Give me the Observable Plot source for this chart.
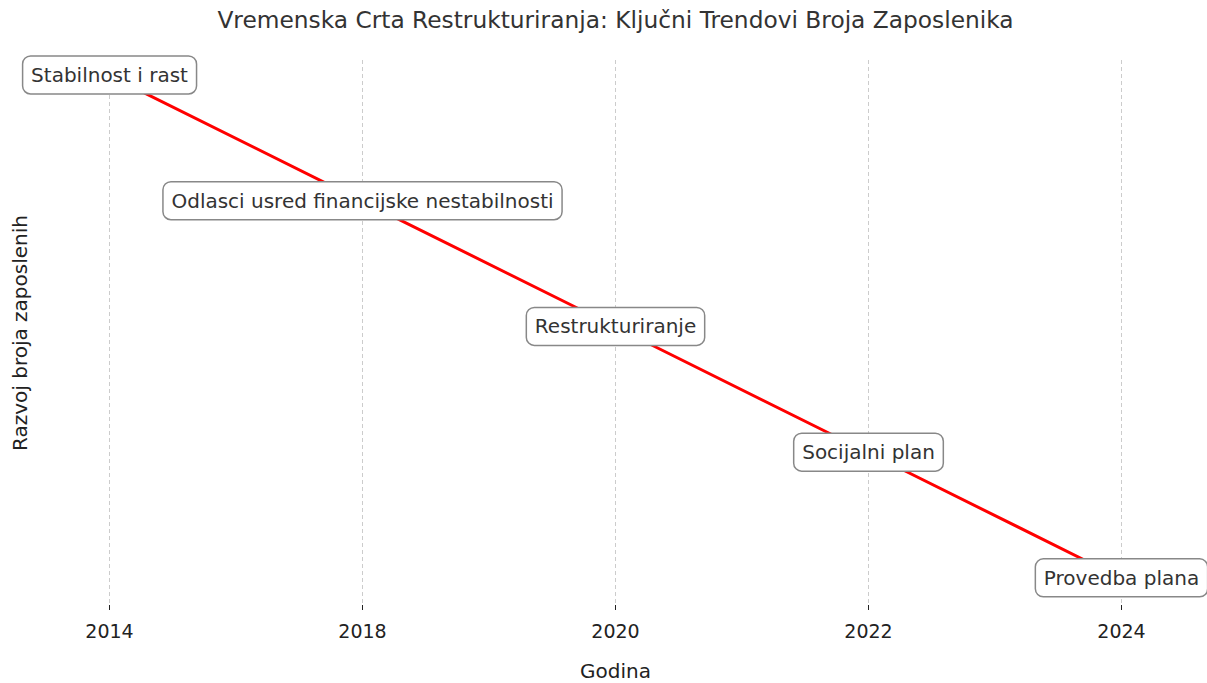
<!DOCTYPE html>
<html><head><meta charset="utf-8">
<script src="https://cdn.jsdelivr.net/npm/d3@7"></script>
<script src="https://cdn.jsdelivr.net/npm/@observablehq/plot@0.6"></script>
<style>
body{margin:0;background:#fff;font-family:"DejaVu Sans",sans-serif;}
#title{height:40px;line-height:40px;text-align:center;font-size:23.3px;color:#333;white-space:nowrap;padding-left:24px;box-sizing:border-box;width:1207px;}
#chart svg{overflow:visible;display:block;}
</style></head><body>
<div id="title">Vremenska Crta Restrukturiranja: Ključni Trendovi Broja Zaposlenika</div>
<div id="chart"></div>
<script>
const years = ["2014", "2018", "2020", "2022", "2024"];
const levels = [5, 4, 3, 2, 1];
const events = ["Stabilnost i rast", "Odlasci usred financijske nestabilnosti", "Restrukturiranje", "Socijalni plan", "Provedba plana"];
const xLabel = "Godina";
const yLabel = "Razvoj broja zaposlenih";

const data = years.map((y, i) => ({year: y, level: levels[i], label: events[i]}));

const chart = Plot.plot({
  width: 1207, height: 643,
  marginLeft: 108, marginRight: 85, marginTop: 20, marginBottom: 78,
  style: {fontFamily: "DejaVu Sans", fontSize: "19px", color: "#222", background: "#fff", overflow: "visible"},
  x: {type: "point", domain: years, padding: 0},
  y: {domain: [0.785, 5.12]},
  marks: [
    Plot.gridX({stroke: "#cccccc", strokeOpacity: 1, strokeDasharray: "4,3"}),
    Plot.axisX({tickSize: 5, tickPadding: 14, fontSize: 19, label: null}),
    Plot.axisX({ticks: [], tickSize: 0, label: xLabel, labelAnchor: "center", labelArrow: "none", labelOffset: 72, fontSize: 20}),
    Plot.axisY({ticks: [], label: yLabel, labelAnchor: "center", labelArrow: "none", labelOffset: 96, fontSize: 20}),
    Plot.line(data, {x: "year", y: "level", stroke: "#ff0000", strokeWidth: 3}),
    Plot.text(data, {x: "year", y: "level", text: "label", fontSize: 20, fill: "#333"})
  ]
});
document.getElementById("chart").appendChild(chart);

// rounded boxes behind the event labels
const padX = 8.5, padY = 7;
chart.querySelectorAll('g[aria-label="text"] text').forEach(t => {
  const b = t.getBBox();
  const r = document.createElementNS("http://www.w3.org/2000/svg", "rect");
  r.setAttribute("x", b.x - padX);
  r.setAttribute("y", b.y - padY);
  r.setAttribute("width", b.width + 2 * padX);
  r.setAttribute("height", b.height + 2 * padY);
  r.setAttribute("rx", 8);
  r.setAttribute("fill", "#fff");
  r.setAttribute("stroke", "#888");
  r.setAttribute("stroke-width", 1.5);
  const tr = t.getAttribute("transform");
  if (tr) r.setAttribute("transform", tr);
  t.parentNode.insertBefore(r, t);
});
</script>
</body></html>
